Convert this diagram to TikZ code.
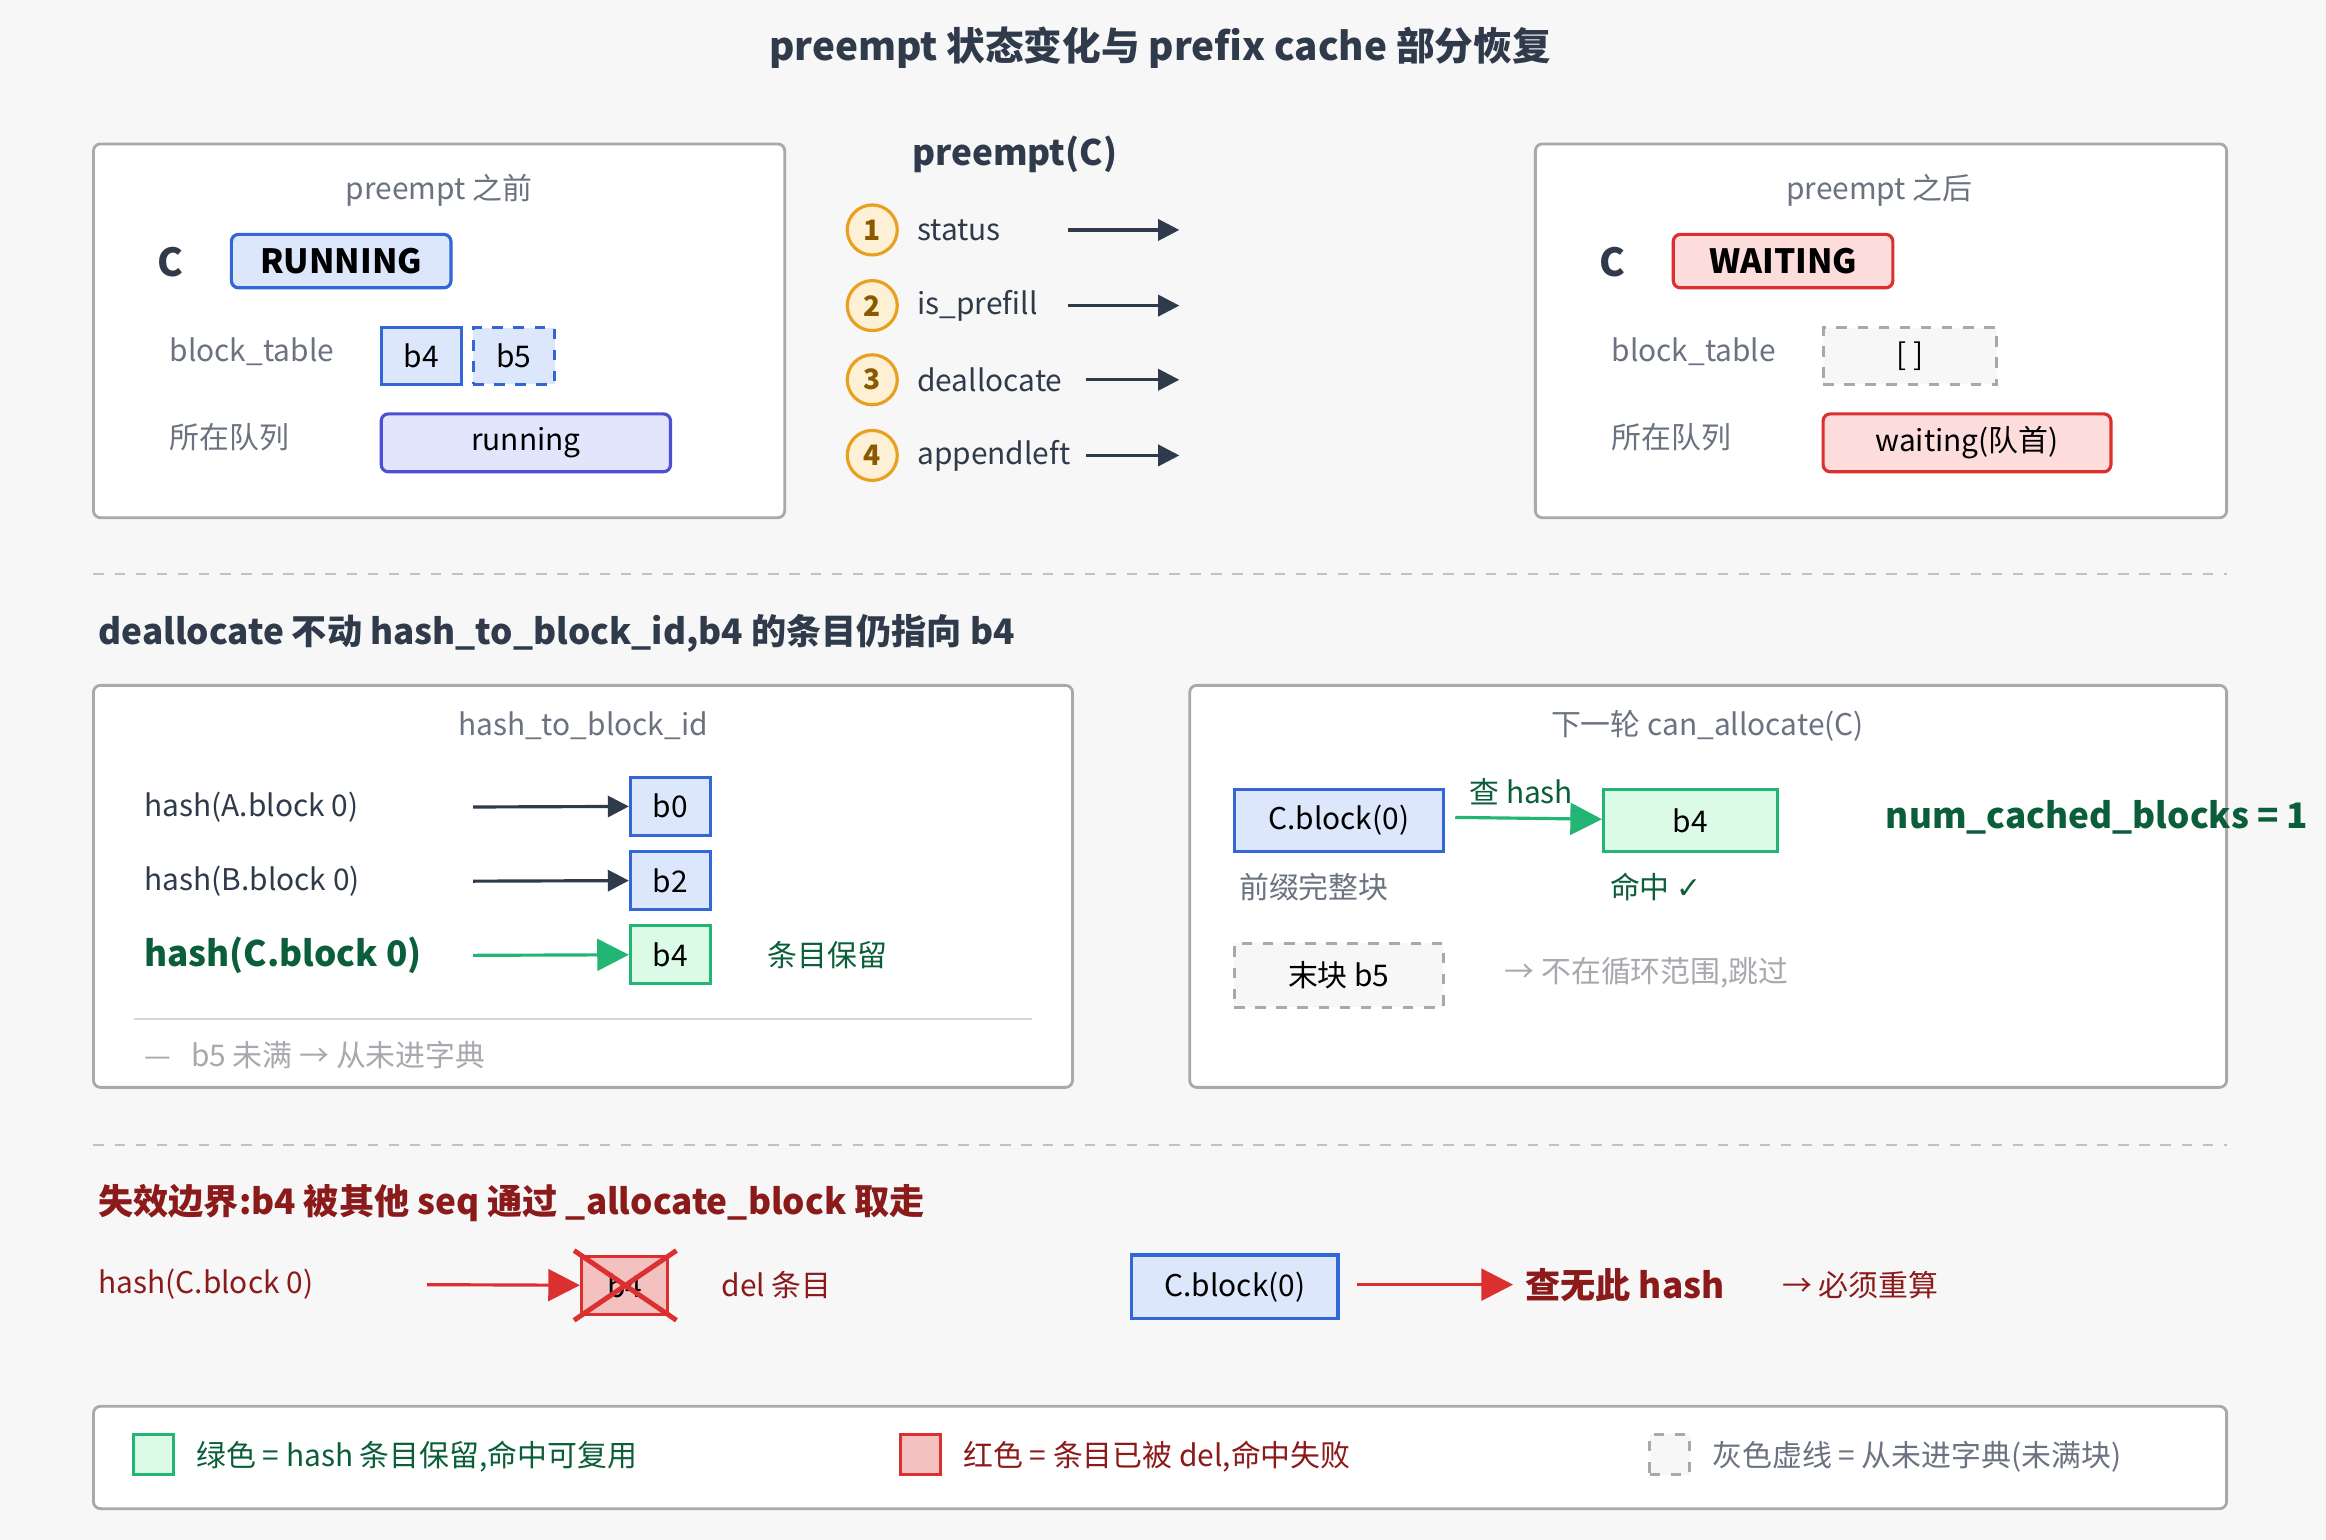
\documentclass[tikz,border=0pt]{standalone}
\usepackage{fontspec}
\setmainfont{Noto Sans CJK SC}
\newfontfamily\dejavu{DejaVu Sans}
\usetikzlibrary{fit,arrows.meta}
\definecolor{bgc}{HTML}{F7F7F8}
\definecolor{frame}{HTML}{A8A8AE}
\definecolor{ink}{HTML}{2F3A4A}
\definecolor{muted}{HTML}{6B7280}
\definecolor{bluef}{HTML}{DCE7FB}
\definecolor{blued}{HTML}{3366D6}
\definecolor{bluet}{HTML}{1E3A8A}
\definecolor{redf}{HTML}{FDDCDC}
\definecolor{redd}{HTML}{DC2F2F}
\definecolor{redt}{HTML}{8B1A1A}
\definecolor{grnf}{HTML}{DCFBE7}
\definecolor{grnd}{HTML}{22B573}
\definecolor{grnt}{HTML}{0B5E3A}
\definecolor{purf}{HTML}{E2E6FC}
\definecolor{purd}{HTML}{4F4FD6}
\definecolor{orgf}{HTML}{FDF0D5}
\definecolor{orgd}{HTML}{E8A020}
\definecolor{orgt}{HTML}{8A5A00}
\begin{document}
\begin{tikzpicture}[x=0.014834cm, y=-0.014834cm, font=\fontsize{8.5}{10}\selectfont,
    panel/.style={draw=frame, fill=white, rounded corners=2pt, line width=0.8pt},
    box/.style={inner sep=0pt, line width=0.9pt},
    bluebox/.style={box, draw=blued, fill=bluef, every label/.style={text=bluet}},
    redbox/.style={box, draw=redd, fill=redf, every label/.style={text=redt}},
    grnbox/.style={box, draw=grnd, fill=grnf, every label/.style={text=grnt, font=\bfseries}},
    graybox/.style={box, draw=frame, dashed, fill=bgc, every label/.style={text=muted}},
    stepnum/.style={circle, draw=orgd, fill=orgf, text=orgt, line width=0.9pt, minimum size=0.5cm, inner sep=0pt, font=\fontsize{8}{9}\selectfont\bfseries},
    lbl/.style={anchor=west, text=ink},
    arr/.style={-{Triangle[length=6pt,width=6pt]}, line width=0.9pt, draw=ink},
    sep/.style={draw=frame!70, dashed, line width=0.6pt}]
  \fill[bgc] (0,0) rectangle (1568,1038);

  \node[font=\fontsize{11}{13}\selectfont\bfseries, text=ink] (title) at (782,32) {preempt 状态变化与 prefix cache 部分恢复};

  % before preempt
  \draw[panel] (63,97) rectangle (529,349);
  \node[text=muted] (pre) at (296,128) {preempt 之前};
  \node[font=\fontsize{11}{13}\selectfont\bfseries, text=ink] (cb) at (115,177) {C};
  \node[bluebox, rounded corners=2pt, fit={(156,158)(304,194)}, label={[font=\fontsize{9.5}{11}\selectfont\bfseries]center:RUNNING}] (run) {};
  \node[lbl, text=muted] (btb) at (106,237) {block\_table};
  \node[bluebox, fit={(257,221)(311,259)}, label=center:b4] (b4a) {};
  \node[bluebox, dashed, fit={(319,221)(374,259)}, label=center:b5] (b5a) {};
  \node[lbl, text=muted] (qb) at (106,295) {所在队列};
  \node[bluebox, draw=purd, fill=purf, rounded corners=2pt, fit={(257,279)(452,318)}, label=center:running] (runq) {};

  % preempt steps
  \node[font=\bfseries, text=ink] (pc) at (684,104) {preempt(C)};
  \foreach \i/\y/\t/\xs in {1/155/status/720, 2/206/is\_prefill/720, 3/256/deallocate/732, 4/307/appendleft/732} {
    \node[stepnum] (s\i) at (588,\y) {\i};
    \node[lbl] (t\i) at (610,\y) {\t};
    \coordinate (f\i) at (\xs,\y);
    \coordinate (e\i) at (795,\y);
    \draw[arr] (f\i) -- (e\i);
  }

  % after preempt
  \draw[panel] (1035,97) rectangle (1501,349);
  \node[text=muted] (post) at (1267,128) {preempt 之后};
  \node[font=\fontsize{11}{13}\selectfont\bfseries, text=ink] (ca) at (1087,177) {C};
  \node[redbox, rounded corners=2pt, fit={(1128,158)(1276,194)}, label={[font=\fontsize{9.5}{11}\selectfont\bfseries]center:WAITING}] (wait) {};
  \node[lbl, text=muted] (bta) at (1078,237) {block\_table};
  \node[graybox, fit={(1229,221)(1346,259)}, label=center:{[ ]}] (empty) {};
  \node[lbl, text=muted] (qa) at (1078,295) {所在队列};
  \node[redbox, rounded corners=2pt, fit={(1229,279)(1423,318)}, label=center:waiting(队首)] (waitq) {};

  \draw[sep] (63,387) -- (1501,387);
  \node[anchor=west, font=\bfseries, text=ink] (h1) at (58,427) {deallocate 不动 hash\_to\_block\_id,b4 的条目仍指向 b4};

  % hash_to_block_id
  \draw[panel] (63,462) rectangle (723,733);
  \node[text=muted] (dict) at (393,489) {hash\_to\_block\_id};
  \node[lbl] (ha) at (89,544) {hash(A.block 0)};
  \node[bluebox, fit={(425,524)(479,563)}, label=center:b0] (b0) {};
  \node[lbl] (hb) at (89,594) {hash(B.block 0)};
  \node[bluebox, fit={(425,574)(479,613)}, label=center:b2] (b2) {};
  \node[lbl, text=grnt, font=\bfseries] (hc) at (89,644) {hash(C.block 0)};
  \node[grnbox, fit={(425,624)(479,663)}, label=center:b4] (b4k) {};
  \node[lbl, text=grnt] (keep) at (509,644) {条目保留};
  \coordinate (sa) at (319,544);
  \coordinate (sb) at (319,594);
  \coordinate (sc) at (319,644);
  \draw[arr] (sa) -- (b0);
  \draw[arr] (sb) -- (b2);
  \draw[arr, draw=grnd, -{Triangle[length=9pt,width=9pt]}] (sc) -- (b4k);
  \draw[draw=frame!45, line width=0.6pt] (90,687) -- (696,687);
  \node[lbl, text=frame] (note) at (89,711) {—~~ b5 未满 → 从未进字典};

  % next round
  \draw[panel] (802,462) rectangle (1501,733);
  \node[text=muted] (next) at (1151,489) {下一轮 can\_allocate(C)};
  \node[bluebox, fit={(832,532)(973,574)}, label=center:C.block(0)] (cblk) {};
  \node[grnbox, fit={(1081,532)(1198,574)}, label=center:b4] (b4h) {};
  \coordinate (sg) at (981,551);
  \draw[arr, draw=grnd, -{Triangle[length=9pt,width=9pt]}] (sg) -- node[above, text=grnt, pos=0.45] {查 hash} (b4h);
  \node[lbl, text=grnt, font=\bfseries] (ncb) at (1263,551) {num\_cached\_blocks = 1};
  \node[lbl, text=muted] (full) at (827,598) {前缀完整块};
  \node[lbl, text=grnt] (hit) at (1077,598) {命中 {\dejavu ✓}};
  \node[graybox, fit={(832,636)(973,679)}, label=center:末块 b5] (tail) {};
  \node[lbl, text=frame] (skip) at (1006,656) {→ 不在循环范围,跳过};

  \draw[sep] (63,772) -- (1501,772);
  \node[anchor=west, font=\bfseries, text=redt] (h2) at (58,811) {失效边界:b4 被其他 seq 通过 \_allocate\_block 取走};

  % invalidation
  \node[lbl, text=redt] (hcr) at (58,866) {hash(C.block 0)};
  \coordinate (sr) at (288,866);
  \node[redbox, fill=redd!30, fit={(392,847)(450,886)}, label=center:b4] (b4x) {};
  \draw[draw=redd, line width=1.4pt] (387,843) -- (456,890) (387,890) -- (456,843);
  \draw[arr, draw=redd, -{Triangle[length=9pt,width=9pt]}] (sr) -- (b4x);
  \node[lbl, text=redt] (del) at (478,866) {del 条目};
  \node[bluebox, fit={(763,846)(902,889)}, label=center:C.block(0)] (cblk2) {};
  \coordinate (sm) at (915,866);
  \node[lbl, text=redt, font=\bfseries] (miss) at (1020,866) {查无此 hash};
  \draw[arr, draw=redd, -{Triangle[length=9pt,width=9pt]}] (sm) -- (miss);
  \node[lbl, text=redt] (recomp) at (1193,866) {→ 必须重算};

  % legend
  \draw[panel] (63,948) rectangle (1501,1017);
  \node[grnbox, fit={(90,967)(117,994)}] (lg) {};
  \node[lbl, text=grnt] (lgt) at (124,982) {绿色 = hash 条目保留,命中可复用};
  \node[redbox, fill=redd!30, fit={(607,967)(634,994)}] (lr) {};
  \node[lbl, text=redt] (lrt) at (641,982) {红色 = 条目已被 del,命中失败};
  \node[graybox, fit={(1112,967)(1139,994)}] (lgy) {};
  \node[lbl, text=muted] (lgyt) at (1146,982) {灰色虚线 = 从未进字典(未满块)};
\end{tikzpicture}
\end{document}
